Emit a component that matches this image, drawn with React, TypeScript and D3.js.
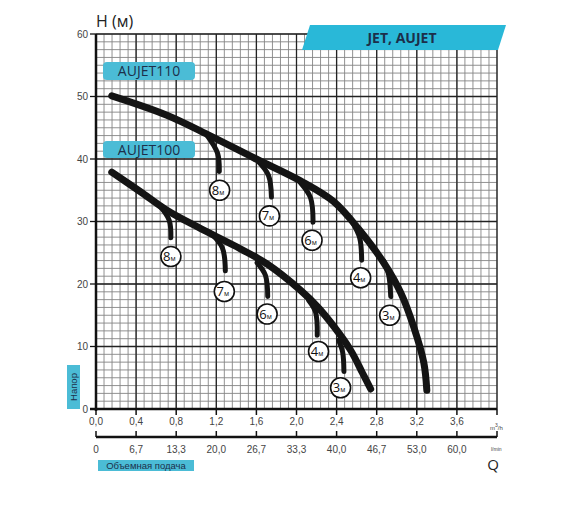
import * as React from 'react';
import { scaleLinear, line, curveCatmullRom, range } from 'd3';

// flow, m3/h and head, m
const aujet110: [number, number][] = [
    [0.157, 50.1], [0.707, 47.0], [1.14, 43.7], [1.573, 40.2], [2.04, 36.5], [2.37, 33.2],
    [2.62, 28.8], [2.87, 23.4], [3.04, 18.6], [3.17, 13.1], [3.27, 7.4], [3.3, 3.0],
];
const aujet100: [number, number][] = [
    [0.157, 37.9], [0.44, 34.8], [0.707, 31.8], [1.04, 28.9], [1.373, 26.2], [1.707, 23.2],
    [2.04, 19.0], [2.207, 16.4], [2.373, 13.2], [2.54, 9.4], [2.657, 5.8], [2.74, 3.2],
];

// suction depth branches: label, points, label position
const branches110 = [
    { depth: '8', pts: [[1.107, 43.8], [1.213, 40.9], [1.23, 38.0]], at: [1.233, 35.0] },
    { depth: '7', pts: [[1.607, 39.8], [1.72, 37.4], [1.75, 33.9]], at: [1.73, 30.9] },
    { depth: '6', pts: [[2.04, 36.2], [2.14, 33.8], [2.165, 29.9]], at: [2.155, 27.0] },
    { depth: '4', pts: [[2.557, 29.9], [2.63, 27.4], [2.65, 23.8]], at: [2.64, 21.0] },
    { depth: '3', pts: [[2.87, 23.7], [2.92, 21.4], [2.94, 18.0]], at: [2.93, 15.0] },
];
const branches100 = [
    { depth: '8', pts: [[0.64, 32.4], [0.73, 30.2], [0.747, 27.4]], at: [0.747, 24.4] },
    { depth: '7', pts: [[1.14, 28.2], [1.26, 25.8], [1.29, 22.1]], at: [1.28, 18.8] },
    { depth: '6', pts: [[1.607, 23.4], [1.69, 21.4], [1.713, 18.0]], at: [1.707, 15.2] },
    { depth: '4', pts: [[2.12, 17.4], [2.19, 15.5], [2.207, 11.8]], at: [2.22, 9.2] },
    { depth: '3', pts: [[2.42, 11.0], [2.46, 9.1], [2.473, 6.0]], at: [2.44, 3.4] },
];

const qTicks = [0, 0.4, 0.8, 1.2, 1.6, 2.0, 2.4, 2.8, 3.2, 3.6];
const qLabels = ['0,0', '0,4', '0,8', '1,2', '1,6', '2,0', '2,4', '2,8', '3,2', '3,6'];
const lminLabels = ['0', '6,7', '13,3', '20,0', '26,7', '33,3', '40,0', '46,7', '53,0', '60,0'];
const hTicks = [0, 10, 20, 30, 40, 50, 60];

const x = scaleLinear().domain([0, 4]).range([96, 497]);
const y = scaleLinear().domain([0, 60]).range([409, 34]);

const curve = line<number[]>()
    .x(d => x(d[0]))
    .y(d => y(d[1]))
    .curve(curveCatmullRom);

const navy = '#1c2f4a';
const blue = '#4bbcd6';
const tickFont = { fontFamily: 'Liberation Sans, Arial, sans-serif', fontSize: 10, fill: '#444' };

const Depth = ({ d, at }: { d: string; at: number[] }) => (
    <g transform={`translate(${x(at[0])},${y(at[1])})`}>
        <circle r={10} fill="#fff" stroke="#111" strokeWidth={1.6} />
        <text x={-1.5} y={4.5} textAnchor="middle" style={{ fontFamily: 'Open Sans, sans-serif', fontSize: 13, fill: '#111' }}>
            {d}
            <tspan style={{ fontSize: 7 }}>м</tspan>
        </text>
    </g>
);

export default function App() {
    const minorX = range(0, 4.001, 0.08);
    const minorY = range(0, 60.001, 1.25);
    const majorX = range(0, 4.001, 0.4);
    return (
        <svg width={570} height={517} style={{ position: 'absolute', left: 0, top: 0, background: '#fff' }}>
            {/* grid */}
            {minorX.map((v, i) => (
                <line key={'mx' + i} x1={x(v)} x2={x(v)} y1={y(60)} y2={y(0)} stroke="#848484" strokeWidth={0.9} />
            ))}
            {minorY.map((v, i) => (
                <line key={'my' + i} x1={x(0)} x2={x(4)} y1={y(v)} y2={y(v)} stroke="#848484" strokeWidth={0.9} />
            ))}
            {majorX.map((v, i) => (
                <line key={'Mx' + i} x1={x(v)} x2={x(v)} y1={y(60)} y2={y(0)} stroke="#222" strokeWidth={1.3} />
            ))}
            {hTicks.map(v => (
                <line key={'My' + v} x1={x(0)} x2={x(4)} y1={y(v)} y2={y(v)} stroke="#222" strokeWidth={1.3} />
            ))}

            {/* banner */}
            <polygon points="310,25 506,25 498,50 302,50" fill="#29b8d8" />
            <text x={402} y={43} textAnchor="middle" style={{ fontFamily: 'Open Sans, sans-serif', fontWeight: 700, fontSize: 14, fill: navy }}>
                JET, AUJET
            </text>

            {/* axes */}
            <line x1={x(0)} x2={x(0)} y1={y(60)} y2={y(0) + 2} stroke="#111" strokeWidth={2.5} />
            <line x1={x(0) - 6} x2={x(4)} y1={y(0)} y2={y(0)} stroke="#111" strokeWidth={2.5} />
            <line x1={x(4)} x2={x(4)} y1={y(0)} y2={y(0) + 6} stroke="#111" strokeWidth={1.5} />
            {hTicks.map(v => (
                <g key={'ht' + v}>
                    <line x1={x(0) - 6} x2={x(0)} y1={y(v)} y2={y(v)} stroke="#111" strokeWidth={1.3} />
                    <text x={x(0) - 8} y={y(v) + 3.5} textAnchor="end" style={tickFont}>{v}</text>
                </g>
            ))}
            {qTicks.map((v, i) => (
                <g key={'qt' + i}>
                    <line x1={x(v)} x2={x(v)} y1={y(0)} y2={y(0) + 6} stroke="#111" strokeWidth={1.5} />
                    <text x={x(v)} y={y(0) + 16} textAnchor="middle" style={tickFont}>{qLabels[i]}</text>
                </g>
            ))}
            <text x={490} y={430} style={{ ...tickFont, fontSize: 6 }}>
                m<tspan dy={-3} style={{ fontSize: 5 }}>3</tspan><tspan dy={3}>/h</tspan>
            </text>

            {/* second flow axis, l/min */}
            <line x1={x(0)} x2={x(4)} y1={437} y2={437} stroke="#111" strokeWidth={2.5} />
            {qTicks.map((v, i) => (
                <g key={'lt' + i}>
                    <line x1={x(v)} x2={x(v)} y1={431} y2={437} stroke="#111" strokeWidth={1.5} />
                    <text x={x(v)} y={453} textAnchor="middle" style={tickFont}>{lminLabels[i]}</text>
                </g>
            ))}
            <line x1={x(4)} x2={x(4)} y1={431} y2={437} stroke="#111" strokeWidth={1.5} />
            <text x={491} y={451} style={{ ...tickFont, fontSize: 5 }}>l/min</text>
            <text x={493} y={470} textAnchor="middle" style={{ fontFamily: 'Open Sans, sans-serif', fontSize: 15, fill: '#222' }}>Q</text>

            {/* titles */}
            <text x={96} y={27} style={{ fontFamily: 'Open Sans, sans-serif', fontSize: 16, fill: '#222' }}>H (м)</text>
            <rect x={98} y={460} width={96} height={11} fill={blue} />
            <text x={146} y={469} textAnchor="middle" style={{ fontFamily: 'Liberation Sans, Arial, sans-serif', fontSize: 9.5, fill: navy }}>
                Объемная подача
            </text>
            <rect x={67} y={365} width={13} height={44} fill={blue} />
            <text transform="translate(77,387) rotate(-90)" textAnchor="middle" style={{ fontFamily: 'Liberation Sans, Arial, sans-serif', fontSize: 9.5, fill: navy }}>
                Напор
            </text>

            {/* model labels */}
            <rect x={103} y={62} width={92} height={18} rx={4} fill={blue} />
            <text x={149} y={76} textAnchor="middle" style={{ fontFamily: 'Open Sans, sans-serif', fontSize: 14, fill: navy }}>AUJET110</text>
            <rect x={103} y={141} width={92} height={17} rx={4} fill={blue} />
            <text x={149} y={155} textAnchor="middle" style={{ fontFamily: 'Open Sans, sans-serif', fontSize: 14, fill: navy }}>AUJET100</text>

            {/* curves */}
            {[...branches110, ...branches100].map((b, i) => (
                <path key={'b' + i} d={curve(b.pts) || ''} fill="none" stroke="#141414" strokeWidth={5} strokeLinecap="round" />
            ))}
            <path d={curve(aujet110) || ''} fill="none" stroke="#141414" strokeWidth={7} strokeLinecap="round" />
            <path d={curve(aujet100) || ''} fill="none" stroke="#141414" strokeWidth={7} strokeLinecap="round" />
            {[...branches110, ...branches100].map((b, i) => (
                <Depth key={'d' + i} d={b.depth} at={b.at} />
            ))}
        </svg>
    );
}
